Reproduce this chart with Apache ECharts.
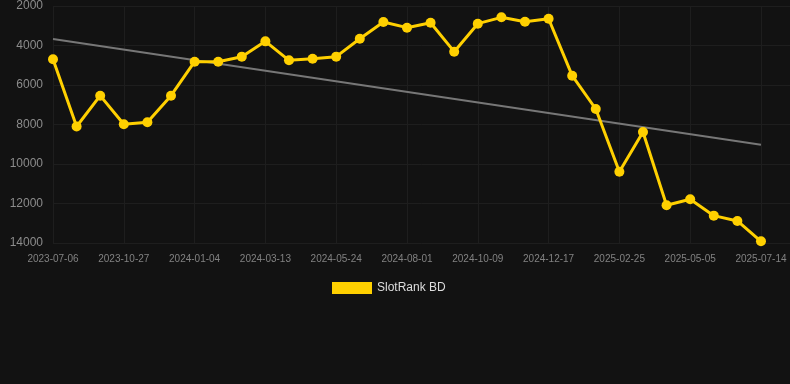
<!DOCTYPE html>
<html>
<head>
<meta charset="utf-8">
<script src="https://cdn.jsdelivr.net/npm/echarts@6/dist/echarts.min.js"></script>
<style>
html,body{margin:0;padding:0;background:#121212;}
#c{width:790px;height:384px;}
</style>
</head>
<body>
<div id="c"></div>
<script>
var dates = ['2023-07-06','2023-08-13','2023-09-20','2023-10-27','2023-11-19','2023-12-12','2024-01-04','2024-01-27','2024-02-19','2024-03-13','2024-04-06','2024-04-30','2024-05-24','2024-06-16','2024-07-09','2024-08-01','2024-08-24','2024-09-16','2024-10-09','2024-11-01','2024-11-24','2024-12-17','2025-01-09','2025-02-02','2025-02-25','2025-03-20','2025-04-12','2025-05-05','2025-05-28','2025-06-20','2025-07-14'];
var rankValues = [4700,8100,6540,7990,7890,6540,4820,4820,4565,3790,4750,4667,4565,3655,2810,3097,2845,4312,2895,2574,2795,2643,5528,7215,10389,8380,12092,11787,12615,12885,13915];
var trendValues = [3670, 9020];
var yTicks = [2000,4000,6000,8000,10000,12000,14000];
var seriesName = 'SlotRank BD';

var lineData = rankValues.map(function(v,i){return [i,v];});
var trendData = [[0,trendValues[0]],[dates.length-1,trendValues[1]]];

var chart = echarts.init(document.getElementById('c'));
chart.setOption({
  backgroundColor:'#121212',
  animation:false,
  grid:{left:53,right:0,top:6,bottom:141,containLabel:false},
  legend:{
    data:[seriesName],
    top:277,
    left:327,
    icon:'rect',
    itemWidth:40,
    itemHeight:12,
    itemGap:10,
    textStyle:{color:'#dddddd',fontSize:12,fontFamily:'Liberation Sans, Arial, sans-serif'}
  },
  xAxis:{
    type:'value',
    min:0,
    max:31.23,
    interval:3,
    axisLine:{show:false},
    axisTick:{show:false},
    axisLabel:{
      color:'#828282',fontSize:10,margin:11,
      fontFamily:'Liberation Sans, Arial, sans-serif',
      showMaxLabel:false,
      formatter:function(v){return (Number.isInteger(v)&&v%3===0&&dates[v])?dates[v]:'';}
    },
    splitLine:{show:true,showMaxLine:false,lineStyle:{color:'#1e1e1e',width:1}}
  },
  yAxis:{
    type:'value',
    inverse:true,
    min:yTicks[0],
    max:yTicks[yTicks.length-1],
    interval:2000,
    axisLine:{show:false},
    axisTick:{show:false},
    axisLabel:{color:'#8c8c8c',fontSize:12,margin:10,fontFamily:'Liberation Sans, Arial, sans-serif',
      formatter:function(v){return String(v);}},
    splitLine:{show:true,lineStyle:{color:'#1e1e1e',width:1}}
  },
  series:[
    {
      name:'trend',
      type:'line',
      data:trendData,
      symbol:'none',
      lineStyle:{color:'#777777',width:2},
      silent:true,
      z:1
    },
    {
      name:seriesName,
      type:'line',
      data:lineData,
      symbol:'circle',
      symbolSize:10,
      itemStyle:{color:'#FFD000'},
      lineStyle:{color:'#FFD000',width:3},
      z:2
    }
  ]
});
</script>
</body>
</html>
